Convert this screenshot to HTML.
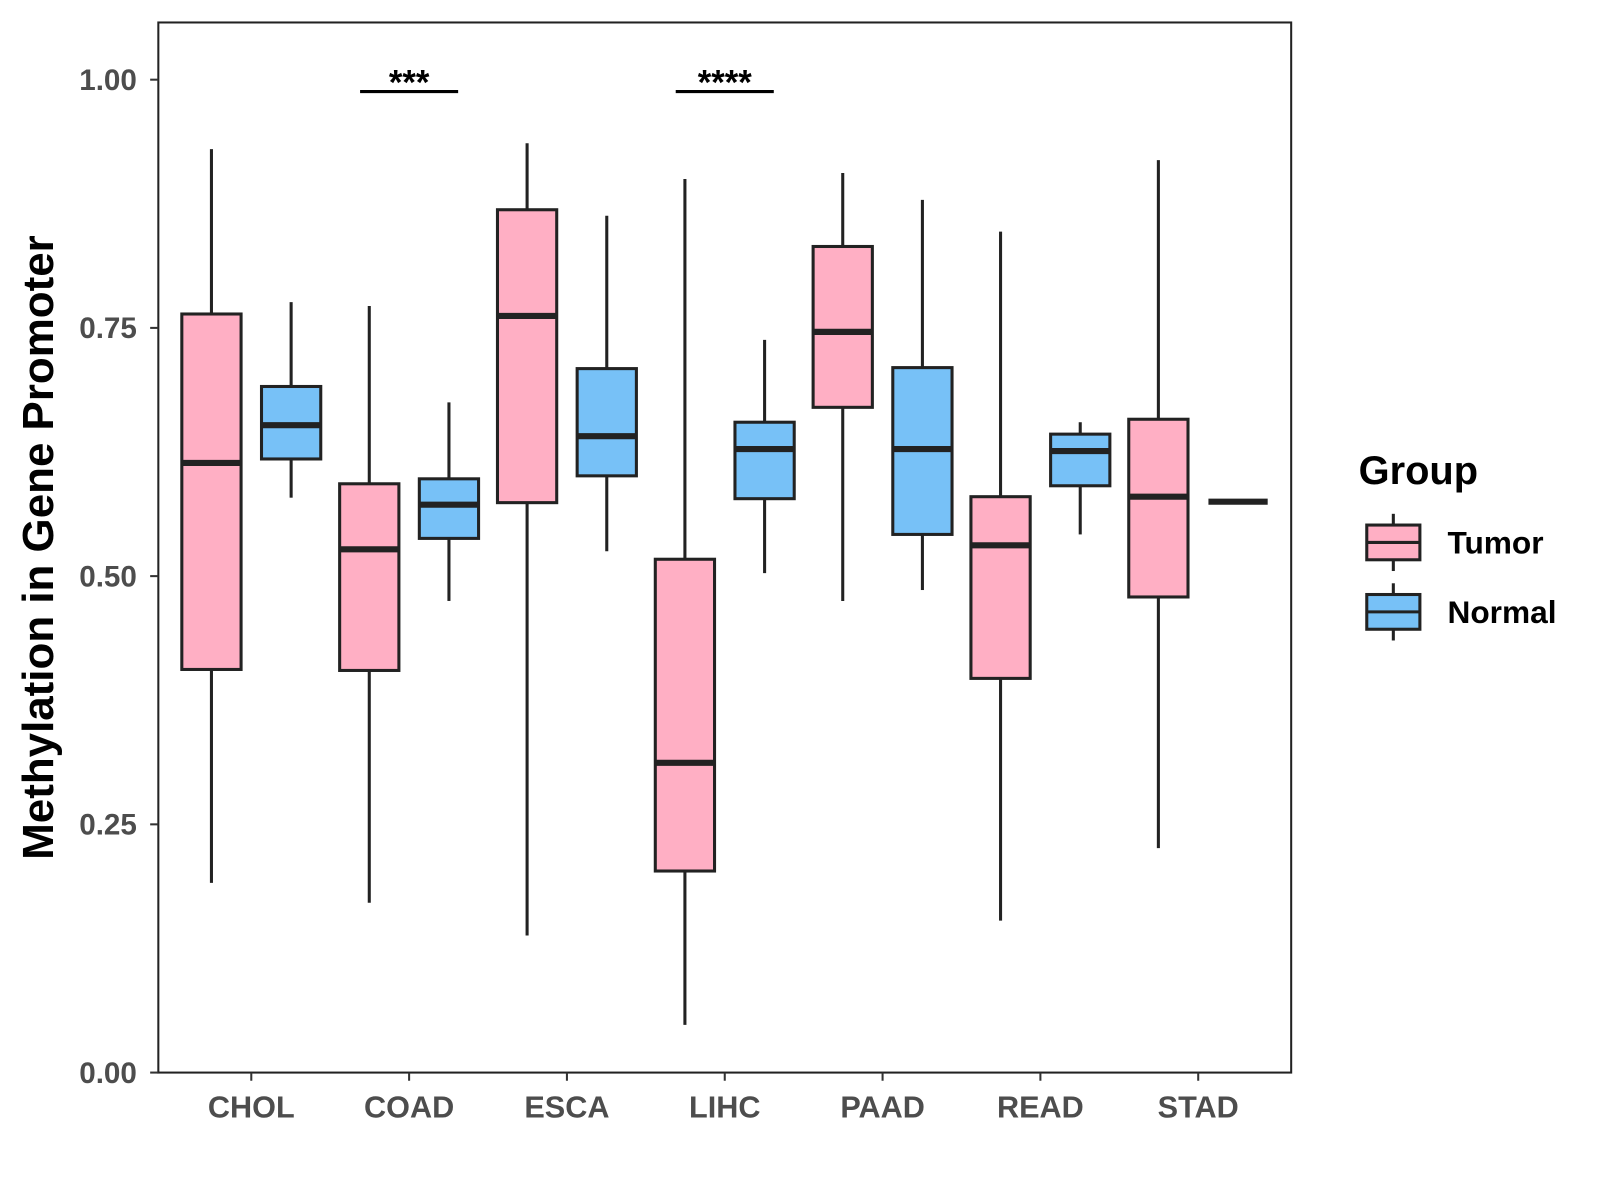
<!DOCTYPE html>
<html><head><meta charset="utf-8"><style>
html,body{margin:0;padding:0;background:#fff;width:1600px;height:1200px;overflow:hidden}
svg{display:block;font-family:"Liberation Sans",Arial,sans-serif}
</style></head><body>
<svg id="chart" width="1600" height="1200"><g id="root" transform="scale(1.0215)"></g></svg>
<script>
const categories = ["CHOL","COAD","ESCA","LIHC","PAAD","READ","STAD"];
// [whiskerLow, q1, median, q3, whiskerHigh]
const tumorStats = [
  [0.191,0.406,0.614,0.764,0.930],
  [0.171,0.405,0.527,0.593,0.772],
  [0.138,0.574,0.762,0.869,0.936],
  [0.048,0.203,0.312,0.517,0.900],
  [0.475,0.670,0.746,0.832,0.906],
  [0.153,0.397,0.531,0.580,0.847],
  [0.226,0.479,0.580,0.658,0.919]
];
const normalStats = [
  [0.579,0.618,0.652,0.691,0.776],
  [0.475,0.538,0.572,0.598,0.675],
  [0.525,0.601,0.641,0.709,0.863],
  [0.503,0.578,0.628,0.655,0.738],
  [0.486,0.542,0.628,0.710,0.879],
  [0.542,0.591,0.626,0.643,0.655],
  [0.575,0.575,0.575,0.575,0.575]
];
const yTicks = [0,0.25,0.5,0.75,1.0];
const yTickLabels = ["0.00","0.25","0.50","0.75","1.00"];
const sigCategories = ["COAD","LIHC"];
const sigLabels = ["***","****"];
const sigLevel = [0.988,0.988];

const NS="http://www.w3.org/2000/svg";
const svg=document.getElementById('root');
const P={l:155,r:1264,t:22,b:1050};
const yS=v=>1050-v*972;
const xS=i=>246+i*154.5;
function mk(tag,attrs,parent){const e=document.createElementNS(NS,tag);for(const k in attrs)e.setAttribute(k,attrs[k]);(parent||svg).appendChild(e);return e;}

const panel=mk('rect',{x:P.l,y:P.t,width:P.r-P.l,height:P.b-P.t,fill:'#fff',stroke:'#222','stroke-width':2});



const yAxis=mk('g',{});


yTicks.forEach((v,i)=>{
  mk('line',{x1:147,x2:P.l,y1:yS(v),y2:yS(v),stroke:'#333','stroke-width':2},yAxis);
  const t=mk('text',{x:134,y:yS(v)+10,'text-anchor':'end','font-size':29,'font-weight':'bold',fill:'#4d4d4d'},yAxis);
  t.textContent=yTickLabels[i];
  
  
});
const xAxis=mk('g',{});


categories.forEach((c,i)=>{
  mk('line',{x1:xS(i),x2:xS(i),y1:P.b,y2:P.b+8,stroke:'#333','stroke-width':2},xAxis);
  const t=mk('text',{x:xS(i),y:1094,'text-anchor':'middle','font-size':30,'font-weight':'bold',fill:'#4d4d4d'},xAxis);
  t.textContent=c;
  
  
});
const yt=mk('text',{x:0,y:0,transform:'translate(52,536) rotate(-90)','text-anchor':'middle','font-size':43,'font-weight':'bold',fill:'#000'});
yt.textContent='Methylation in Gene Promoter';



function box(cx,s,fill,name){
  const g=mk('g',{});
  
  
  const w=58;
  mk('line',{x1:cx,x2:cx,y1:yS(s[4]),y2:yS(s[3]),stroke:'#222','stroke-width':3},g);
  mk('line',{x1:cx,x2:cx,y1:yS(s[1]),y2:yS(s[0]),stroke:'#222','stroke-width':3},g);
  mk('rect',{x:cx-w/2,y:yS(s[3]),width:w,height:Math.max(0,yS(s[1])-yS(s[3])),fill:fill,stroke:'#222','stroke-width':3},g);
  mk('line',{x1:cx-w/2,x2:cx+w/2,y1:yS(s[2]),y2:yS(s[2]),stroke:'#222','stroke-width':6},g);
}
categories.forEach((c,i)=>{
  box(xS(i)-39,tumorStats[i],'#FFAFC4','box-tumor-'+c.toLowerCase());
  box(xS(i)+39,normalStats[i],'#77C1F7','box-normal-'+c.toLowerCase());
});
sigCategories.forEach((c,j)=>{
  const i=categories.indexOf(c);
  const g=mk('g',{});
  
  
  mk('line',{x1:xS(i)-48,x2:xS(i)+48,y1:yS(sigLevel[j]),y2:yS(sigLevel[j]),stroke:'#000','stroke-width':3},g);
  const t=mk('text',{x:xS(i),y:yS(sigLevel[j])+3,'text-anchor':'middle','font-size':34,'font-weight':'bold',fill:'#000'},g);
  t.textContent=sigLabels[j];
});

const lg=mk('g',{});


const lt=mk('text',{x:1330,y:474,'font-size':39,'font-weight':'bold',fill:'#000'},lg);
lt.textContent='Group';
[['Tumor','#FFAFC4',531],['Normal','#77C1F7',599]].forEach(([n,f,cy])=>{
  const e=mk('g',{},lg);
  
  
  mk('line',{x1:1364,x2:1364,y1:cy-28,y2:cy+28,stroke:'#222','stroke-width':3},e);
  mk('rect',{x:1338,y:cy-17,width:52,height:34,fill:f,stroke:'#222','stroke-width':3},e);
  mk('line',{x1:1338,x2:1390,y1:cy,y2:cy,stroke:'#222','stroke-width':3},e);
  const t=mk('text',{x:1417,y:cy+11,'font-size':31,'font-weight':'bold',fill:'#000'},e);
  t.textContent=n;
});
</script>
</body></html>
